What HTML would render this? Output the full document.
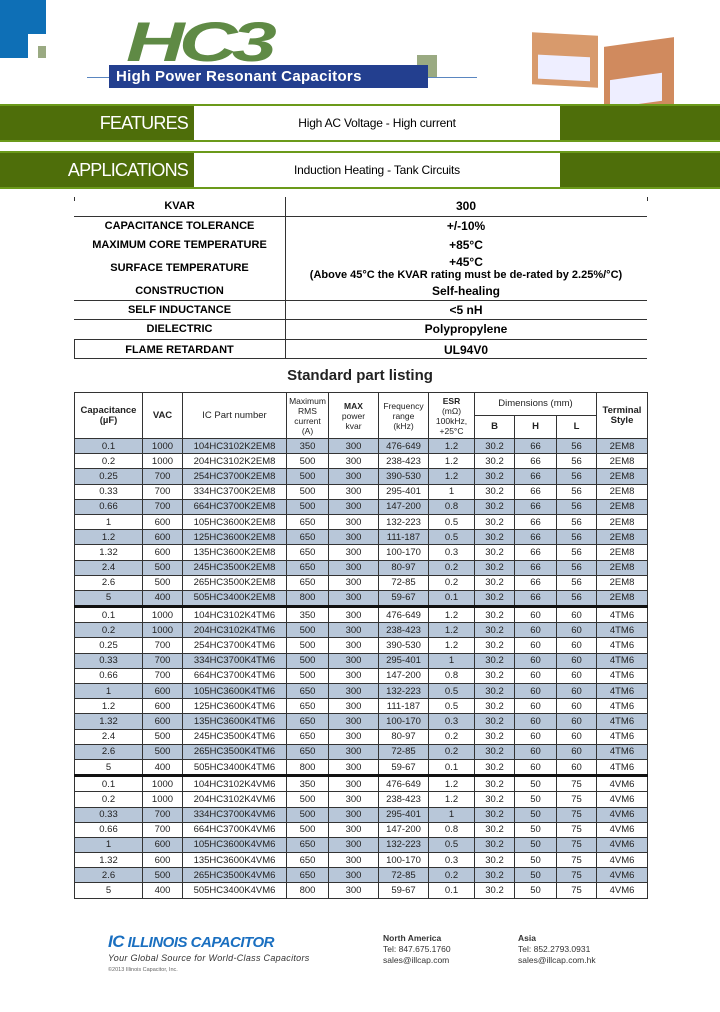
<!DOCTYPE html>
<html><head><meta charset="utf-8">
<style>
body{margin:0;width:720px;height:1012px;position:relative;background:#fff;font-family:"Liberation Sans",Arial,sans-serif;overflow:hidden}
.a{position:absolute}
.bar{position:absolute;left:0;width:720px;height:34px;background:#4e6e0a;border-top:2px solid #6b9a1a;border-bottom:2px solid #6b9a1a}
.bar .l{position:absolute;left:0;width:188px;text-align:right;color:#fff;font-size:18px;top:7px;letter-spacing:-0.8px}
.bar .w{position:absolute;left:194px;width:366px;top:0;height:34px;background:#fff;text-align:center;font-size:12px;line-height:34px;letter-spacing:-0.2px}
.k,.v{position:absolute;text-align:center;font-weight:bold;white-space:nowrap}
.k{left:74px;width:211px;font-size:11px}
.v{left:285px;width:362px;font-size:12px}
.hl{position:absolute;left:74px;width:573px;height:1px;background:#333}
table{position:absolute;left:74px;top:392px;border-collapse:collapse;font-size:9.5px;color:#222}
td,th{border:1px solid #333;text-align:center;padding:0;height:14.2px;line-height:13px}
th{font-weight:normal;font-size:8.5px;line-height:10px}
th.b{font-weight:bold;font-size:9.5px}
tr.s td{background:#b8c7d9}
tr.t td{border-top:3px solid #111}
</style></head><body>
<div class="a" style="left:0;top:0;width:46px;height:34px;background:#0e6fb6"></div>
<div class="a" style="left:0;top:34px;width:28px;height:24px;background:#0e6fb6"></div>
<div class="a" style="left:38px;top:46px;width:8px;height:12px;background:#9aaa82"></div>
<div class="a" style="left:126px;top:14px;font-size:56px;font-weight:bold;font-style:italic;color:#5f8a45;letter-spacing:-4px;line-height:56px;transform:scaleX(1.45);transform-origin:left">HC3</div>
<div class="a" style="left:417px;top:55px;width:20px;height:22px;background:#9aaa82"></div>
<div class="a" style="left:87px;top:77px;width:390px;height:1px;background:#5a86c0"></div>
<div class="a" style="left:109px;top:65px;width:319px;height:23px;background:#233f8f;color:#fff;font-weight:bold;font-size:15px;line-height:23px;padding-left:7px;box-sizing:border-box;letter-spacing:0.3px">High Power Resonant Capacitors</div>
<div class="a" style="left:532px;top:34px;width:66px;height:52px;background:#d89a6c;transform:skewY(3deg)"><div style="position:absolute;left:6px;top:22px;width:52px;height:24px;background:#eef"></div></div>
<div class="a" style="left:604px;top:42px;width:70px;height:68px;background:#d08a5e;transform:skewY(-8deg)"><div style="position:absolute;left:6px;top:34px;width:52px;height:28px;background:#eef"></div></div>

<div class="bar" style="top:104px"><div class="l">FEATURES</div><div class="w">High AC Voltage - High current</div></div>
<div class="bar" style="top:151px"><div class="l">APPLICATIONS</div><div class="w">Induction Heating - Tank Circuits</div></div>

<div class="a" style="left:285px;top:197px;width:1px;height:161px;background:#333"></div>
<div class="a" style="left:74px;top:197px;width:1px;height:4px;background:#333"></div>
<div class="a" style="left:647px;top:197px;width:1px;height:4px;background:#333"></div>
<div class="a" style="left:74px;top:339px;width:1px;height:19px;background:#333"></div>
<div class="hl" style="top:216px"></div><div class="hl" style="top:300px"></div><div class="hl" style="top:319px"></div><div class="hl" style="top:339px"></div><div class="hl" style="top:358px"></div>
<div class="k" style="top:200px">KVAR</div><div class="v" style="top:199px">300</div>
<div class="k" style="top:220px">CAPACITANCE TOLERANCE</div><div class="v" style="top:219px">+/-10%</div>
<div class="k" style="top:239px">MAXIMUM CORE TEMPERATURE</div><div class="v" style="top:238px">+85°C</div>
<div class="k" style="top:262px">SURFACE TEMPERATURE</div><div class="v" style="top:255px">+45°C</div>
<div class="v" style="top:269px;font-size:11px">(Above 45°C the KVAR rating must be de-rated by 2.25%/°C)</div>
<div class="k" style="top:285px">CONSTRUCTION</div><div class="v" style="top:284px">Self-healing</div>
<div class="k" style="top:304px">SELF INDUCTANCE</div><div class="v" style="top:303px">&lt;5 nH</div>
<div class="k" style="top:323px">DIELECTRIC</div><div class="v" style="top:322px">Polypropylene</div>
<div class="k" style="top:344px">FLAME RETARDANT</div><div class="v" style="top:343px">UL94V0</div>
<div class="a" style="left:0;width:720px;top:367px;text-align:center;font-size:15px;font-weight:bold;color:#222">Standard part listing</div>

<table>
<colgroup><col style="width:68px"><col style="width:40px"><col style="width:104px"><col style="width:42px"><col style="width:50px"><col style="width:50px"><col style="width:46px"><col style="width:40px"><col style="width:42px"><col style="width:40px"><col style="width:51px"></colgroup>
<tr><th class="b" rowspan="2" style="height:28px">Capacitance<br>(µF)</th><th class="b" rowspan="2">VAC</th><th rowspan="2" style="font-size:9.5px">IC Part number</th><th rowspan="2">Maximum<br>RMS<br>current<br>(A)</th><th rowspan="2"><b>MAX</b><br>power<br>kvar</th><th rowspan="2">Frequency<br>range<br>(kHz)</th><th rowspan="2"><b>ESR</b><br>(mΩ)<br>100kHz,<br>+25°C</th><th colspan="3" style="font-size:9.5px;height:22px">Dimensions (mm)</th><th class="b" rowspan="2">Terminal<br>Style</th></tr>
<tr><th class="b" style="height:22px">B</th><th class="b">H</th><th class="b">L</th></tr>
<tr class="s"><td>0.1</td><td>1000</td><td>104HC3102K2EM8</td><td>350</td><td>300</td><td>476-649</td><td>1.2</td><td>30.2</td><td>66</td><td>56</td><td>2EM8</td></tr>
<tr><td>0.2</td><td>1000</td><td>204HC3102K2EM8</td><td>500</td><td>300</td><td>238-423</td><td>1.2</td><td>30.2</td><td>66</td><td>56</td><td>2EM8</td></tr>
<tr class="s"><td>0.25</td><td>700</td><td>254HC3700K2EM8</td><td>500</td><td>300</td><td>390-530</td><td>1.2</td><td>30.2</td><td>66</td><td>56</td><td>2EM8</td></tr>
<tr><td>0.33</td><td>700</td><td>334HC3700K2EM8</td><td>500</td><td>300</td><td>295-401</td><td>1</td><td>30.2</td><td>66</td><td>56</td><td>2EM8</td></tr>
<tr class="s"><td>0.66</td><td>700</td><td>664HC3700K2EM8</td><td>500</td><td>300</td><td>147-200</td><td>0.8</td><td>30.2</td><td>66</td><td>56</td><td>2EM8</td></tr>
<tr><td>1</td><td>600</td><td>105HC3600K2EM8</td><td>650</td><td>300</td><td>132-223</td><td>0.5</td><td>30.2</td><td>66</td><td>56</td><td>2EM8</td></tr>
<tr class="s"><td>1.2</td><td>600</td><td>125HC3600K2EM8</td><td>650</td><td>300</td><td>111-187</td><td>0.5</td><td>30.2</td><td>66</td><td>56</td><td>2EM8</td></tr>
<tr><td>1.32</td><td>600</td><td>135HC3600K2EM8</td><td>650</td><td>300</td><td>100-170</td><td>0.3</td><td>30.2</td><td>66</td><td>56</td><td>2EM8</td></tr>
<tr class="s"><td>2.4</td><td>500</td><td>245HC3500K2EM8</td><td>650</td><td>300</td><td>80-97</td><td>0.2</td><td>30.2</td><td>66</td><td>56</td><td>2EM8</td></tr>
<tr><td>2.6</td><td>500</td><td>265HC3500K2EM8</td><td>650</td><td>300</td><td>72-85</td><td>0.2</td><td>30.2</td><td>66</td><td>56</td><td>2EM8</td></tr>
<tr class="s"><td>5</td><td>400</td><td>505HC3400K2EM8</td><td>800</td><td>300</td><td>59-67</td><td>0.1</td><td>30.2</td><td>66</td><td>56</td><td>2EM8</td></tr>
<tr class="t"><td>0.1</td><td>1000</td><td>104HC3102K4TM6</td><td>350</td><td>300</td><td>476-649</td><td>1.2</td><td>30.2</td><td>60</td><td>60</td><td>4TM6</td></tr>
<tr class="s"><td>0.2</td><td>1000</td><td>204HC3102K4TM6</td><td>500</td><td>300</td><td>238-423</td><td>1.2</td><td>30.2</td><td>60</td><td>60</td><td>4TM6</td></tr>
<tr><td>0.25</td><td>700</td><td>254HC3700K4TM6</td><td>500</td><td>300</td><td>390-530</td><td>1.2</td><td>30.2</td><td>60</td><td>60</td><td>4TM6</td></tr>
<tr class="s"><td>0.33</td><td>700</td><td>334HC3700K4TM6</td><td>500</td><td>300</td><td>295-401</td><td>1</td><td>30.2</td><td>60</td><td>60</td><td>4TM6</td></tr>
<tr><td>0.66</td><td>700</td><td>664HC3700K4TM6</td><td>500</td><td>300</td><td>147-200</td><td>0.8</td><td>30.2</td><td>60</td><td>60</td><td>4TM6</td></tr>
<tr class="s"><td>1</td><td>600</td><td>105HC3600K4TM6</td><td>650</td><td>300</td><td>132-223</td><td>0.5</td><td>30.2</td><td>60</td><td>60</td><td>4TM6</td></tr>
<tr><td>1.2</td><td>600</td><td>125HC3600K4TM6</td><td>650</td><td>300</td><td>111-187</td><td>0.5</td><td>30.2</td><td>60</td><td>60</td><td>4TM6</td></tr>
<tr class="s"><td>1.32</td><td>600</td><td>135HC3600K4TM6</td><td>650</td><td>300</td><td>100-170</td><td>0.3</td><td>30.2</td><td>60</td><td>60</td><td>4TM6</td></tr>
<tr><td>2.4</td><td>500</td><td>245HC3500K4TM6</td><td>650</td><td>300</td><td>80-97</td><td>0.2</td><td>30.2</td><td>60</td><td>60</td><td>4TM6</td></tr>
<tr class="s"><td>2.6</td><td>500</td><td>265HC3500K4TM6</td><td>650</td><td>300</td><td>72-85</td><td>0.2</td><td>30.2</td><td>60</td><td>60</td><td>4TM6</td></tr>
<tr><td>5</td><td>400</td><td>505HC3400K4TM6</td><td>800</td><td>300</td><td>59-67</td><td>0.1</td><td>30.2</td><td>60</td><td>60</td><td>4TM6</td></tr>
<tr class="t"><td>0.1</td><td>1000</td><td>104HC3102K4VM6</td><td>350</td><td>300</td><td>476-649</td><td>1.2</td><td>30.2</td><td>50</td><td>75</td><td>4VM6</td></tr>
<tr><td>0.2</td><td>1000</td><td>204HC3102K4VM6</td><td>500</td><td>300</td><td>238-423</td><td>1.2</td><td>30.2</td><td>50</td><td>75</td><td>4VM6</td></tr>
<tr class="s"><td>0.33</td><td>700</td><td>334HC3700K4VM6</td><td>500</td><td>300</td><td>295-401</td><td>1</td><td>30.2</td><td>50</td><td>75</td><td>4VM6</td></tr>
<tr><td>0.66</td><td>700</td><td>664HC3700K4VM6</td><td>500</td><td>300</td><td>147-200</td><td>0.8</td><td>30.2</td><td>50</td><td>75</td><td>4VM6</td></tr>
<tr class="s"><td>1</td><td>600</td><td>105HC3600K4VM6</td><td>650</td><td>300</td><td>132-223</td><td>0.5</td><td>30.2</td><td>50</td><td>75</td><td>4VM6</td></tr>
<tr><td>1.32</td><td>600</td><td>135HC3600K4VM6</td><td>650</td><td>300</td><td>100-170</td><td>0.3</td><td>30.2</td><td>50</td><td>75</td><td>4VM6</td></tr>
<tr class="s"><td>2.6</td><td>500</td><td>265HC3500K4VM6</td><td>650</td><td>300</td><td>72-85</td><td>0.2</td><td>30.2</td><td>50</td><td>75</td><td>4VM6</td></tr>
<tr><td>5</td><td>400</td><td>505HC3400K4VM6</td><td>800</td><td>300</td><td>59-67</td><td>0.1</td><td>30.2</td><td>50</td><td>75</td><td>4VM6</td></tr>
</table>

<div class="a" style="left:108px;top:932px;font-size:15px;color:#1a6fc0;font-style:italic;font-weight:bold;letter-spacing:-0.5px"><span style="font-size:17px">IC</span> ILLINOIS CAPACITOR</div>
<div class="a" style="left:108px;top:953px;font-size:9px;font-style:italic;color:#333;letter-spacing:0.3px">Your Global Source for World-Class Capacitors</div>
<div class="a" style="left:108px;top:967px;font-size:5.5px;color:#666">©2013 Illinois Capacitor, Inc.</div>
<div class="a" style="left:383px;top:933px;font-size:8.5px;color:#333;line-height:11px"><b>North America</b><br>Tel: 847.675.1760<br>sales@illcap.com</div>
<div class="a" style="left:518px;top:933px;font-size:8.5px;color:#333;line-height:11px"><b>Asia</b><br>Tel: 852.2793.0931<br>sales@illcap.com.hk</div>
</body></html>
